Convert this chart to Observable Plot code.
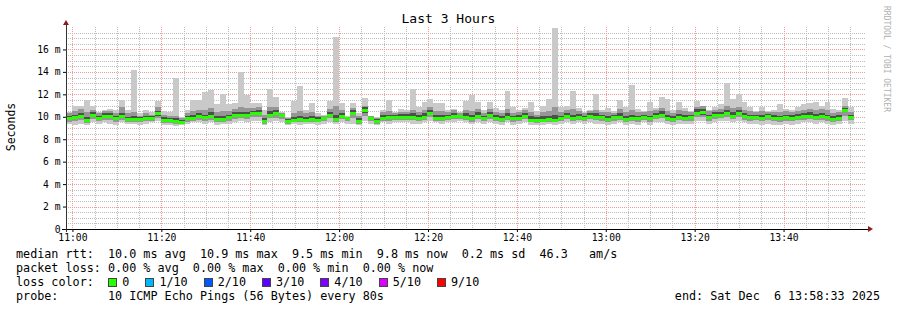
<!DOCTYPE html>
<html><head><meta charset="utf-8">
<script src="https://cdn.jsdelivr.net/npm/d3@7"></script>
<script src="https://cdn.jsdelivr.net/npm/@observablehq/plot@0.6"></script>
<style>
html,body{margin:0;padding:0;background:#fff;}
#wrap{position:relative;width:897px;height:310px;overflow:hidden;font-family:"DejaVu Sans Mono",monospace;color:#000;}
.t{position:absolute;white-space:pre;font-size:11.75px;line-height:14px;}
#chart{position:absolute;left:0;top:0;}
</style></head><body><div id="wrap"><div id="chart"></div></div>
<script>
// ---- data (ms), one bar per 80 s step, start 10:58:33 ----
const startMin = -1.45;           // minutes relative to 11:00
const endMin = 178.55;            // 13:58:33
const stepMin = 80 / 60;

const medians = [9.85,9.95,10.1,9.75,10.2,9.9,10.1,10.05,9.85,10.05,
9.8,9.8,9.8,9.9,9.9,10.3,9.7,9.7,9.6,9.55,
9.85,9.9,10.05,9.95,10.1,9.8,9.8,9.95,10.15,10.15,
10.15,10.3,10.35,9.6,10.2,10.3,10.15,9.6,9.75,9.8,
9.75,9.8,9.75,9.9,10.2,9.8,10.1,9.9,10.35,9.6,
10.6,9.9,9.6,9.9,9.95,9.95,10.0,10.0,10.0,9.9,
10.0,10.35,9.9,9.85,10.0,10.1,10.1,10.0,9.85,10.1,
9.9,10.15,9.9,9.8,10.0,9.85,9.9,10.1,9.75,9.7,
9.75,9.8,9.75,9.85,10.1,9.9,10.0,9.9,10.1,10.0,
9.95,9.8,9.95,10.0,9.8,9.9,9.85,10.0,9.85,10.1,
10.2,9.9,9.8,10.0,9.9,9.95,10.35,10.4,9.95,10.15,
10.2,10.3,10.1,10.35,10.05,9.95,10.0,9.9,10.05,9.9,
9.85,9.95,9.9,10.0,10.05,10.1,10.0,10.05,9.95,9.8,9.9,10.6,10.0];

const maxs = [10.4,11.0,11.0,11.5,11.0,10.4,10.6,10.7,10.6,11.5,
10.6,14.2,10.3,10.6,10.4,11.4,10.5,10.4,13.5,10.0,
10.6,11.5,11.5,12.2,12.4,11.1,12.0,11.1,11.2,14.0,
11.9,11.2,11.2,10.6,12.5,11.8,10.4,10.0,11.4,12.7,
10.6,11.2,10.3,10.2,11.4,17.1,11.2,10.1,11.2,10.3,
11.7,10.1,10.0,10.6,11.5,10.4,10.7,10.6,12.5,10.9,
11.3,11.6,11.2,11.2,10.6,10.7,10.4,11.4,11.9,11.3,
10.6,11.3,10.8,10.6,12.3,10.9,10.6,10.8,11.3,10.5,
11.0,11.6,17.9,10.9,11.0,12.3,10.8,10.4,10.6,12.0,
10.6,10.8,10.5,11.5,10.9,12.8,10.7,10.5,11.3,10.8,
11.8,11.6,10.6,11.3,10.8,10.5,11.4,10.9,10.6,10.9,
11.1,13.0,11.6,12.0,11.3,10.9,10.5,10.9,10.5,10.6,
11.1,10.7,10.6,10.9,11.1,11.2,11.3,11.0,11.3,10.7,10.6,11.7,10.9];

const mins = [9.4,9.3,9.4,9.3,9.5,9.4,9.5,9.4,9.3,9.5,
9.4,9.4,9.3,9.4,9.5,9.6,9.3,9.3,9.2,9.3,
9.4,9.5,9.5,9.4,9.5,9.3,9.4,9.4,9.5,9.6,
9.5,9.6,9.6,9.3,9.5,9.6,9.5,9.3,9.4,9.3,
9.4,9.4,9.3,9.4,9.5,9.4,9.5,9.4,9.4,9.3,
9.6,9.4,9.3,9.5,9.4,9.5,9.5,9.5,9.4,9.4,
9.5,9.6,9.5,9.4,9.5,9.5,9.6,9.5,9.4,9.5,
9.4,9.5,9.4,9.3,9.5,9.3,9.4,9.5,9.3,9.3,
9.3,9.4,9.3,9.4,9.5,9.4,9.5,9.4,9.5,9.4,
9.4,9.3,9.4,9.5,9.3,9.4,9.3,9.5,9.3,9.5,
9.5,9.4,9.3,9.4,9.4,9.4,9.6,9.6,9.4,9.5,
9.6,9.6,9.5,9.6,9.5,9.4,9.4,9.3,9.4,9.3,
9.3,9.4,9.3,9.4,9.5,9.5,9.4,9.5,9.4,9.3,9.4,9.6,9.4];

const lows = [9.55,9.6,9.7,9.45,9.8,9.6,9.75,9.7,9.5,9.7,
9.5,9.55,9.5,9.6,9.65,9.9,9.45,9.45,9.35,9.4,
9.55,9.65,9.75,9.6,9.75,9.5,9.55,9.65,9.8,9.85,
9.8,9.95,9.95,9.4,9.85,9.9,9.8,9.4,9.5,9.5,
9.5,9.55,9.5,9.6,9.85,9.55,9.8,9.6,9.9,9.4,
10.1,9.6,9.4,9.65,9.65,9.7,9.7,9.7,9.7,9.6,
9.7,9.95,9.65,9.6,9.7,9.8,9.8,9.7,9.55,9.8,
9.6,9.8,9.6,9.5,9.7,9.55,9.6,9.8,9.5,9.45,
9.5,9.55,9.5,9.6,9.8,9.6,9.7,9.6,9.8,9.7,
9.65,9.5,9.65,9.7,9.5,9.6,9.55,9.7,9.55,9.8,
9.85,9.6,9.5,9.7,9.6,9.65,9.95,10.0,9.65,9.8,
9.85,9.95,9.8,9.95,9.75,9.65,9.7,9.6,9.75,9.6,
9.55,9.65,9.6,9.7,9.75,9.8,9.7,9.75,9.65,9.5,9.6,10.1,9.7];

const highs = [10.3,10.5,10.7,10.4,10.6,10.3,10.5,10.5,10.3,10.9,
10.3,10.4,10.1,10.3,10.2,10.9,10.2,10.1,10.1,9.9,
10.3,10.5,10.6,10.6,10.8,10.4,10.5,10.5,10.7,10.9,
10.8,10.8,10.9,10.2,10.9,10.9,10.3,9.9,10.3,10.5,
10.3,10.4,10.1,10.1,10.7,11.0,10.6,10.0,10.8,10.1,
11.0,10.1,9.9,10.4,10.5,10.3,10.4,10.4,10.6,10.4,
10.6,10.9,10.5,10.5,10.4,10.6,10.3,10.6,10.5,10.7,
10.3,10.7,10.4,10.3,10.7,10.3,10.4,10.6,10.4,10.2,
10.4,10.5,10.9,10.4,10.6,10.7,10.5,10.3,10.5,10.6,
10.4,10.4,10.3,10.7,10.4,10.6,10.4,10.4,10.5,10.6,
10.8,10.5,10.3,10.6,10.5,10.4,10.9,11.0,10.5,10.6,
10.7,11.0,10.8,10.9,10.6,10.5,10.4,10.5,10.4,10.4,
10.4,10.5,10.4,10.5,10.6,10.7,10.6,10.7,10.6,10.3,10.4,11.0,10.4];

const coreLows = [9.7,9.8,9.9,9.6,10.0,9.75,9.95,9.9,9.7,9.9,
9.65,9.65,9.65,9.75,9.75,10.1,9.55,9.55,9.45,9.45,
9.7,9.75,9.9,9.8,9.95,9.65,9.65,9.8,10.0,10.0,
10.0,10.15,10.2,9.5,10.05,10.15,10.0,9.5,9.6,9.65,
9.6,9.65,9.6,9.75,10.05,9.65,9.95,9.75,10.15,9.5,
10.35,9.75,9.5,9.75,9.8,9.8,9.85,9.85,9.85,9.75,
9.85,10.15,9.75,9.7,9.85,9.95,9.95,9.85,9.7,9.95,
9.75,10.0,9.75,9.65,9.85,9.7,9.75,9.95,9.6,9.55,
9.6,9.65,9.6,9.7,9.95,9.75,9.85,9.75,9.95,9.85,
9.8,9.65,9.8,9.85,9.65,9.75,9.7,9.85,9.7,9.95,
10.05,9.75,9.65,9.85,9.75,9.8,10.15,10.2,9.8,10.0,
10.05,10.15,9.95,10.15,9.9,9.8,9.85,9.75,9.9,9.75,
9.7,9.8,9.75,9.85,9.9,9.95,9.85,9.9,9.8,9.65,9.75,10.4,9.85];

const coreHighs = [10.05,10.2,10.35,10.0,10.4,10.1,10.3,10.3,10.05,10.35,
10.0,10.05,9.95,10.1,10.05,10.55,9.95,9.9,9.85,9.75,
10.05,10.15,10.3,10.2,10.4,10.05,10.1,10.2,10.4,10.45,
10.4,10.55,10.6,9.85,10.5,10.6,10.1,9.8,10.0,10.05,
10.0,10.05,9.95,10.0,10.45,10.2,10.35,9.95,10.6,9.85,
10.85,10.0,9.8,10.15,10.2,10.15,10.25,10.25,10.3,10.15,
10.3,10.6,10.2,10.15,10.2,10.35,10.2,10.3,10.15,10.4,
10.1,10.4,10.15,10.05,10.3,10.1,10.15,10.35,10.05,9.95,
10.05,10.1,10.15,10.1,10.35,10.2,10.25,10.1,10.3,10.3,
10.2,10.05,10.15,10.3,10.05,10.2,10.1,10.2,10.1,10.35,
10.5,10.2,10.05,10.25,10.15,10.15,10.65,10.7,10.2,10.4,
10.45,10.6,10.4,10.6,10.3,10.2,10.2,10.15,10.25,10.15,
10.1,10.2,10.15,10.25,10.3,10.4,10.25,10.35,10.2,10.05,10.15,10.8,10.2];

// ---- axes ----
const xMajorTicks = [0, 20, 40, 60, 80, 100, 120, 140, 160];
const xTickLabels = ["11:00","11:20","11:40","12:00","12:20","12:40","13:00","13:20","13:40"];
const xMinorTicks = d3.range(0, 180, 5).filter(v => v % 20 !== 0);
const yMajorTicks = [0, 2, 4, 6, 8, 10, 12, 14, 16];
const yTickLabels = ["0","2 m","4 m","6 m","8 m","10 m","12 m","14 m","16 m"];
const yMinorTicks = d3.range(0.5, 18.01, 0.5).filter(v => v % 2 !== 0);
const yMajorGrid = [2, 4, 6, 8, 10, 12, 14, 16];

// ---- legend ----
const titleText = "Last 3 Hours";
const yLabel = "Seconds";
const watermark = "RRDTOOL / TOBI OETIKER";
const legendRtt = "median rtt:  10.0 ms avg  10.9 ms max  9.5 ms min  9.8 ms now  0.2 ms sd  46.3   am/s";
const legendLoss = "packet loss: 0.00 % avg  0.00 % max  0.00 % min  0.00 % now";
const lossLabels = ["0","1/10","2/10","3/10","4/10","5/10","9/10"];
const lossColors = ["#26ff00","#00b8ff","#0059ff","#5e00ff","#7e00ff","#dd00ff","#ff0000"];
const probeText = "probe:       10 ICMP Echo Pings (56 Bytes) every 80s";
const endText = "end: Sat Dec  6 13:58:33 2025";

const bars = medians.map((m, i) => ({
  t0: startMin + i * stepMin, t1: startMin + (i + 1) * stepMin,
  med: m, min: mins[i], max: maxs[i], lo: lows[i], hi: highs[i], clo: coreLows[i], chi: coreHighs[i]
}));

const plot = Plot.plot({
  width: 897, height: 245,
  marginLeft: 66, marginRight: 31, marginTop: 27, marginBottom: 16,
  x: {domain: [startMin, endMin], axis: null},
  y: {domain: [0, 18], axis: null},
  style: {background: "transparent", fontFamily: "DejaVu Sans Mono, monospace", fontSize: "9.7px", color: "#000", overflow: "visible"},
  marks: [
    Plot.ruleY(yMinorTicks, {stroke: "#bdbdbd", strokeDasharray: "1,1", shapeRendering: "crispEdges"}),
    Plot.ruleX(xMinorTicks, {stroke: "#bdbdbd", strokeDasharray: "1,1", shapeRendering: "crispEdges"}),
    Plot.ruleY(yMajorGrid, {stroke: "#f09a9a", strokeDasharray: "1,1", shapeRendering: "crispEdges"}),
    Plot.ruleX(xMajorTicks, {stroke: "#f09a9a", strokeDasharray: "1,1", shapeRendering: "crispEdges"}),
    Plot.rect(bars, {x1: "t0", x2: "t1", y1: "min", y2: "max", fill: "#c9c9c9", shapeRendering: "crispEdges"}),
    Plot.rect(bars, {x1: "t0", x2: "t1", y1: "lo", y2: "hi", fill: "#969696", shapeRendering: "crispEdges"}),
    Plot.rect(bars, {x1: "t0", x2: "t1", y1: "clo", y2: "chi", fill: "#4e4e4e", shapeRendering: "crispEdges"}),
    Plot.ruleY(bars, {x1: "t0", x2: "t1", y: "med", stroke: "#26ff00", strokeWidth: 3, shapeRendering: "crispEdges"}),
    Plot.axisX(xMajorTicks, {anchor: "bottom", tickSize: 3, tickPadding: 2, stroke: "#000",
      tickFormat: d => xTickLabels[xMajorTicks.indexOf(d)], fontSize: "9.7px"}),
    Plot.axisY(yMajorTicks, {anchor: "left", tickSize: 3, tickPadding: 3, stroke: "#000",
      tickFormat: d => yTickLabels[yMajorTicks.indexOf(d)], fontSize: "9.7px"})
  ]
});
document.getElementById("chart").appendChild(plot);

// axis lines + arrows
const sx = plot.scale("x"), sy = plot.scale("y");
const svg = d3.select(plot);
const x0 = sx.apply(startMin), x1 = sx.apply(endMin), y0 = sy.apply(0), yTop = sy.apply(18);
svg.append("line").attr("x1", x0 - 4).attr("x2", x1 + 4).attr("y1", y0).attr("y2", y0)
  .attr("stroke", "#000").attr("shape-rendering", "crispEdges");
svg.append("line").attr("x1", x0).attr("x2", x0).attr("y1", y0 + 3).attr("y2", yTop - 4)
  .attr("stroke", "#333").attr("shape-rendering", "crispEdges");
svg.append("path").attr("d", `M${x1 + 2},${y0 - 3}L${x1 + 7},${y0}L${x1 + 2},${y0 + 3}Z`).attr("fill", "#8b1e1e");
svg.append("path").attr("d", `M${x0 - 3},${yTop - 2}L${x0},${yTop - 7}L${x0 + 3},${yTop - 2}Z`).attr("fill", "#8b1e1e");

// texts
const wrap = document.getElementById("wrap");
function addText(txt, css) {
  const d = document.createElement("div");
  d.className = "t"; d.textContent = txt;
  Object.assign(d.style, css);
  wrap.appendChild(d);
  return d;
}
addText(titleText, {left: "0", width: "897px", textAlign: "center", top: "11px", fontSize: "13px", lineHeight: "15px"});
addText(yLabel, {left: "11px", top: "127px", fontSize: "11.5px", transform: "translate(-50%,-50%) rotate(-90deg)"});
addText(watermark, {left: "886px", top: "59px", fontSize: "8px", color: "#b0b0b0", transform: "translate(-50%,-50%) rotate(90deg)"});
addText(legendRtt, {left: "16px", top: "247px"});
addText(legendLoss, {left: "16px", top: "261px"});
addText("loss color:", {left: "16px", top: "275px"});
let lx = 108.3;
lossLabels.forEach((lab, i) => {
  const sq = document.createElement("div");
  Object.assign(sq.style, {position: "absolute", left: lx + "px", top: "278px", width: "7px", height: "7px",
    background: lossColors[i], border: "1px solid #444"});
  wrap.appendChild(sq);
  addText(lab, {left: (lx + 14) + "px", top: "275px"});
  lx += 30 + lab.length * 7.08;
});
addText(probeText, {left: "16px", top: "289px"});
addText(endText, {right: "17px", top: "289px"});
</script>
</body></html>
